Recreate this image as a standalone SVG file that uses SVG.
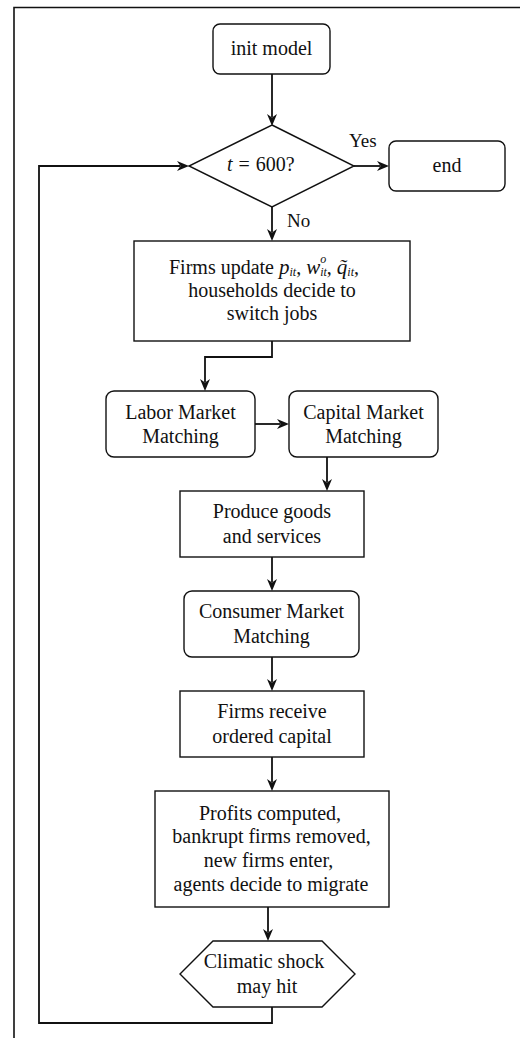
<svg xmlns="http://www.w3.org/2000/svg" width="520" height="1038" viewBox="0 0 520 1038">
<style>
  .box{fill:#fff;stroke:#111;stroke-width:1.4}
  .lbl{font-family:"Liberation Serif","Times New Roman",serif;font-size:20px;fill:#111;text-anchor:middle}
  .lbs{font-family:"Liberation Serif","Times New Roman",serif;font-size:20px;fill:#111}
  .lab{font-family:"Liberation Serif","Times New Roman",serif;font-size:19px;fill:#111}
  .it{font-style:italic}
  .sub{font-size:12px;font-style:italic}
  .conn{fill:none;stroke:#111;stroke-width:1.8}
  .frame{fill:none;stroke:#111;stroke-width:1.6}
</style>
<defs>
  <marker id="arr" markerUnits="userSpaceOnUse" viewBox="0 0 12 10" refX="3" refY="5" markerWidth="12" markerHeight="10" orient="auto">
    <path d="M0,0 L12,5 L0,10 L3.5,5 Z" fill="#111"/>
  </marker>
</defs>
<path class="frame" d="M14,1038 V7.5 H520"/>
<g id="connectors">
  <path class="conn" d="M272,74 V117" marker-end="url(#arr)"/>
  <path class="conn" d="M354,166 H380" marker-end="url(#arr)"/>
  <path class="conn" d="M272,207 V232" marker-end="url(#arr)"/>
  <path class="conn" d="M272,341 V357 H205 V382" marker-end="url(#arr)"/>
  <path class="conn" d="M255,424 H280" marker-end="url(#arr)"/>
  <path class="conn" d="M327,457 V482" marker-end="url(#arr)"/>
  <path class="conn" d="M272,557 V582" marker-end="url(#arr)"/>
  <path class="conn" d="M272,657 V682" marker-end="url(#arr)"/>
  <path class="conn" d="M272,757 V782" marker-end="url(#arr)"/>
  <path class="conn" d="M268,907 V932" marker-end="url(#arr)"/>
  <path class="conn" d="M272,1007 V1023 H39 V166 H180" marker-end="url(#arr)"/>
  <text class="lab" x="349" y="147">Yes</text>
  <text class="lab" x="287" y="227">No</text>
</g>
<g id="init">
  <rect class="box" x="213" y="24" width="117" height="50" rx="7"/>
  <text class="lbl" x="271.5" y="55">init model</text>
</g>
<g id="decision">
  <polygon class="box" points="272,125 354,166 272,207 189,166"/>
  <text class="lbs" x="227" y="171" font-size="21"><tspan class="it">t</tspan><tspan dx="6">=</tspan><tspan dx="6">600?</tspan></text>
</g>
<g id="end">
  <rect class="box" x="389" y="141" width="116" height="50" rx="7"/>
  <text class="lbl" x="447" y="172">end</text>
</g>
<g id="update">
  <rect class="box" x="134" y="241" width="276" height="100"/>
  <text class="lbs" x="169" y="274">Firms update <tspan class="it" font-size="21">p</tspan><tspan class="sub" dy="2">it</tspan><tspan dy="-2">, </tspan><tspan class="it" font-size="21">w</tspan><tspan class="sub" dy="-11">o</tspan><tspan class="sub" dx="-6" dy="13">it</tspan><tspan dy="-2">, </tspan><tspan class="it" font-size="21">q&#x303;</tspan><tspan class="sub" dy="2">it</tspan><tspan dy="-2">,</tspan></text>
  <text class="lbl" x="272" y="297">households decide to</text>
  <text class="lbl" x="272" y="320">switch jobs</text>
</g>
<g id="labor">
  <rect class="box" x="106" y="391" width="149" height="66" rx="8"/>
  <text class="lbl" x="180.5" y="419">Labor Market</text>
  <text class="lbl" x="180.5" y="443">Matching</text>
</g>
<g id="capital">
  <rect class="box" x="289" y="391" width="149" height="66" rx="8"/>
  <text class="lbl" x="363.5" y="419">Capital Market</text>
  <text class="lbl" x="363.5" y="443">Matching</text>
</g>
<g id="produce">
  <rect class="box" x="180" y="491" width="184" height="66"/>
  <text class="lbl" x="272" y="518">Produce goods</text>
  <text class="lbl" x="272" y="543">and services</text>
</g>
<g id="consumer">
  <rect class="box" x="184" y="591" width="175" height="66" rx="8"/>
  <text class="lbl" x="271.5" y="618">Consumer Market</text>
  <text class="lbl" x="271.5" y="643">Matching</text>
</g>
<g id="receive">
  <rect class="box" x="180" y="691" width="184" height="66"/>
  <text class="lbl" x="272" y="718">Firms receive</text>
  <text class="lbl" x="272" y="743">ordered capital</text>
</g>
<g id="profits">
  <rect class="box" x="155" y="791" width="234" height="116"/>
  <text class="lbl" x="270" y="820">Profits computed,</text>
  <text class="lbl" x="271.5" y="843">bankrupt firms removed,</text>
  <text class="lbl" x="268.5" y="867">new firms enter,</text>
  <text class="lbl" x="271" y="891">agents decide to migrate</text>
</g>
<g id="shock">
  <polygon class="box" points="213,941 322,941 355,974 322,1007 213,1007 180,974"/>
  <text class="lbl" x="264" y="968">Climatic shock</text>
  <text class="lbl" x="267" y="993">may hit</text>
</g>
</svg>
